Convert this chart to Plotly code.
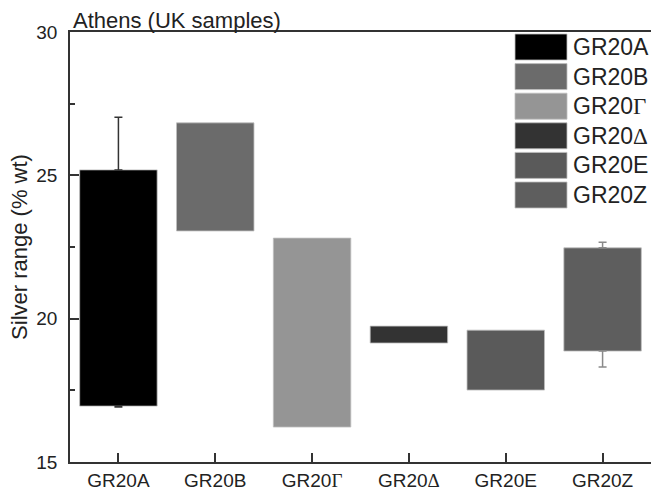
import plotly.graph_objects as go

# ---- data ----
categories = ["GR20A", "GR20B", "GR20Γ", "GR20Δ", "GR20E", "GR20Z"]
tick_labels = ["GR20A", "GR20B",
               "GR20<span style='font-family:Liberation Serif'>Γ</span>",
               "GR20<span style='font-family:Liberation Serif'>Δ</span>",
               "GR20E", "GR20Z"]
range_low = [16.95, 23.06, 16.22, 19.15, 17.51, 18.87]
range_high = [25.19, 26.83, 22.81, 19.74, 19.60, 22.47]
whisker_max = [27.03, None, None, None, None, 22.67]
whisker_min = [16.92, None, None, None, None, 18.31]
bar_colors = ["#000000", "#6b6b6b", "#959595", "#333333", "#5a5a5a", "#5e5e5e"]
whisker_colors = ["#333333", None, None, None, None, "#8a8a8a"]

fig = go.Figure()

heights = [h - l for h, l in zip(range_high, range_low)]
fig.add_trace(go.Bar(
    x=categories, y=heights, base=range_low, width=0.8,
    marker=dict(color=bar_colors, line=dict(color="rgba(190,190,190,0.8)", width=1)),
    showlegend=False, hoverinfo="skip",
))

# whiskers (upper from bar top, lower from bar bottom)
for i, c in enumerate(categories):
    if whisker_max[i] is None:
        continue
    col = whisker_colors[i]
    fig.add_trace(go.Scatter(
        x=[c], y=[range_high[i]], mode="markers", marker=dict(size=0.1, opacity=0),
        error_y=dict(type="data", symmetric=False, array=[whisker_max[i] - range_high[i]],
                     arrayminus=[0], color=col, thickness=1.5, width=4),
        showlegend=False, hoverinfo="skip",
    ))
    fig.add_trace(go.Scatter(
        x=[c], y=[range_low[i]], mode="markers", marker=dict(size=0.1, opacity=0),
        error_y=dict(type="data", symmetric=False, array=[0],
                     arrayminus=[range_low[i] - whisker_min[i]], color=col, thickness=1.5, width=4),
        showlegend=False, hoverinfo="skip",
    ))

# ---- legend drawn as large swatches (paper coordinates) ----
L, T, R, B = 70, 32, 0, 29
W, H = 651, 491
pw, ph = W - L - R, H - T - B
shapes, annots = [], []
sw_x0, sw_x1, txt_x = 515, 567, 571
row0, pitch, sw_h = 34, 29.6, 26
for i, (lab, col) in enumerate(zip(tick_labels, bar_colors)):
    top = row0 + pitch * i
    shapes.append(dict(type="rect", xref="paper", yref="paper",
                       x0=(sw_x0 - L) / pw, x1=(sw_x1 - L) / pw,
                       y0=(H - B - top) / ph, y1=(H - B - top - sw_h) / ph,
                       fillcolor=col, line=dict(color="rgba(190,190,190,0.8)", width=1)))
    annots.append(dict(xref="paper", yref="paper", x=(txt_x - L) / pw,
                       y=(H - B - top - sw_h / 2) / ph, text=lab, showarrow=False,
                       xanchor="left", yanchor="middle",
                       font=dict(size=23, color="#222222")))

annots.append(dict(xref="paper", yref="paper", x=0, y=1, xshift=1, yshift=-3,
                   text="Athens (UK samples)", showarrow=False,
                   xanchor="left", yanchor="bottom",
                   font=dict(size=22, color="#222222")))

fig.update_layout(
    width=W, height=H,
    margin=dict(l=L, r=R, t=T, b=B),
    paper_bgcolor="white", plot_bgcolor="white",
    font=dict(family="Liberation Sans, Arial, sans-serif", color="#222222"),
    shapes=shapes, annotations=annots,
    bargap=0.2,
)
fig.update_xaxes(
    type="category", range=[-0.5, 5.5],
    tickmode="array", tickvals=categories, ticktext=tick_labels,
    showline=True, linecolor="#333333", linewidth=1.5, mirror=True,
    ticks="inside", ticklen=9, tickwidth=1.5, tickcolor="#333333",
    tickfont=dict(size=19), showgrid=False, zeroline=False,
)
fig.update_yaxes(
    range=[15, 30], dtick=5, tick0=15,
    showline=True, linecolor="#333333", linewidth=1.5, mirror=False,
    ticks="inside", ticklen=9, tickwidth=1.5, tickcolor="#333333",
    minor=dict(ticks="inside", ticklen=5, dtick=2.5, tickcolor="#333333", tickwidth=1.5),
    tickfont=dict(size=19), ticklabelstandoff=7,
    showgrid=False, zeroline=False,
    title=dict(text="Silver range (% wt)", font=dict(size=22), standoff=3),
)

fig.write_html("out.html", config={"displayModeBar": False},
               post_script="document.body.style.margin='0';document.body.style.overflow='hidden';")
